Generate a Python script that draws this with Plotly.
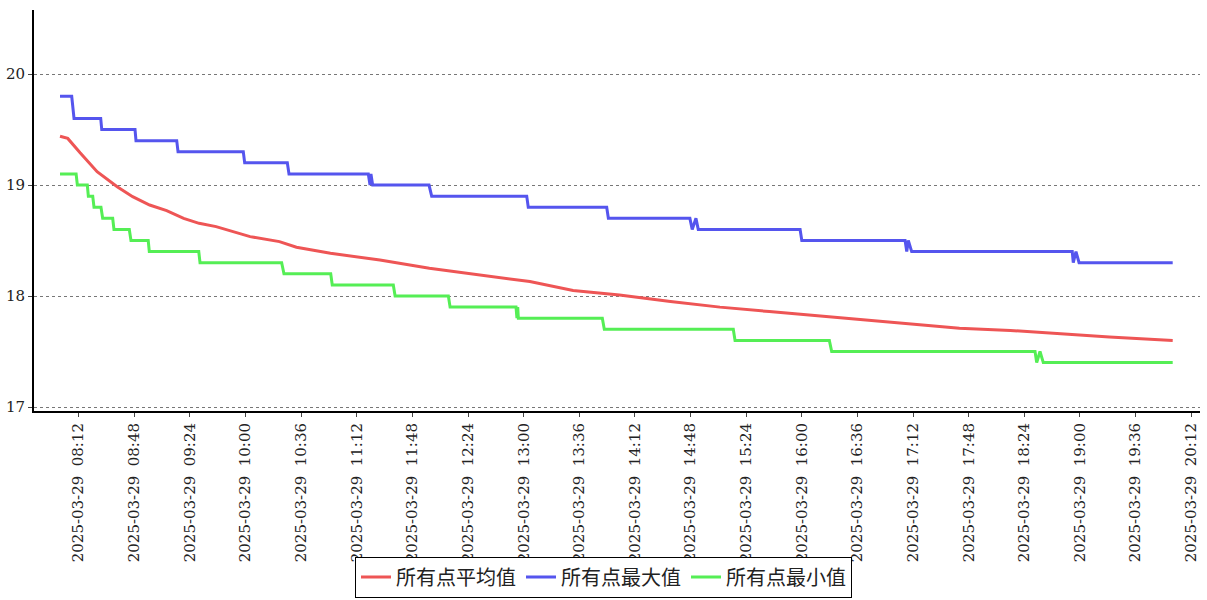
import plotly.graph_objects as go

DAY = "2025-03-29 "

# 所有点平均值 (average)
avg_time = ["08:00:00", "08:05:00", "08:13:00", "08:24:00", "08:37:00", "08:47:00", "08:58:00",
            "09:09:00", "09:20:00", "09:30:00", "09:41:00", "10:03:00", "10:22:00", "10:33:00",
            "10:55:00", "11:27:00", "11:59:00", "12:32:00", "13:04:00", "13:32:00", "14:02:00",
            "14:35:00", "15:07:00", "15:39:00", "16:12:00", "16:42:00", "17:10:00", "17:42:00",
            "18:15:00", "18:47:00", "19:19:00", "20:00:00"]
avg_vals = [19.44, 19.42, 19.29, 19.12, 18.985, 18.895, 18.82,
            18.77, 18.70, 18.655, 18.625, 18.535, 18.49, 18.44,
            18.385, 18.324, 18.25, 18.19, 18.13, 18.05, 18.01,
            17.95, 17.90, 17.86, 17.82, 17.78, 17.75, 17.71,
            17.69, 17.66, 17.63, 17.60]

# 所有点最大值 (maximum)
max_time = ["08:00:00", "08:07:34", "08:09:04", "08:26:20", "08:27:00", "08:48:32", "08:49:10",
            "09:15:31", "09:16:22", "09:58:36", "09:59:30", "10:27:05", "10:28:10",
            "11:19:30", "11:20:36", "11:21:12", "11:22:18", "11:58:48", "12:00:30",
            "13:02:00", "13:03:00", "13:53:45", "13:54:50", "14:47:35", "14:49:06",
            "14:51:30", "14:53:00", "15:58:54", "16:00:00", "17:06:50", "17:07:55",
            "17:08:55", "17:11:06", "18:55:00", "18:55:40", "18:57:25", "18:59:25", "20:00:00"]
max_vals = [19.8, 19.8, 19.6, 19.6, 19.5, 19.5, 19.4,
            19.4, 19.3, 19.3, 19.2, 19.2, 19.1,
            19.1, 19.0, 19.1, 19.0, 19.0, 18.9,
            18.9, 18.8, 18.8, 18.7, 18.7, 18.6,
            18.7, 18.6, 18.6, 18.5, 18.5, 18.4,
            18.5, 18.4, 18.4, 18.3, 18.4, 18.3, 18.3]

# 所有点最小值 (minimum)
min_time = ["08:00:00", "08:10:25", "08:11:13", "08:17:40", "08:18:20", "08:21:10", "08:22:00",
            "08:26:30", "08:27:36", "08:34:05", "08:34:55", "08:44:50", "08:45:55",
            "08:57:05", "08:57:47", "09:29:47", "09:30:36", "10:23:25", "10:24:55",
            "10:55:10", "10:56:10", "11:35:40", "11:36:50", "12:11:18", "12:12:25",
            "12:55:05", "12:55:40", "12:56:10", "12:56:35", "13:50:55", "13:52:12",
            "15:15:40", "15:16:48", "16:17:50", "16:19:20", "18:30:55", "18:32:00",
            "18:34:08", "18:36:16", "20:00:00"]
min_vals = [19.1, 19.1, 19.0, 19.0, 18.9, 18.9, 18.8,
            18.8, 18.7, 18.7, 18.6, 18.6, 18.5,
            18.5, 18.4, 18.4, 18.3, 18.3, 18.2,
            18.2, 18.1, 18.1, 18.0, 18.0, 17.9,
            17.9, 17.8, 17.9, 17.8, 17.8, 17.7,
            17.7, 17.6, 17.6, 17.5, 17.5, 17.4,
            17.5, 17.4, 17.4]

tick_times = ["08:12", "08:48", "09:24", "10:00", "10:36", "11:12", "11:48", "12:24", "13:00",
              "13:36", "14:12", "14:48", "15:24", "16:00", "16:36", "17:12", "17:48", "18:24",
              "19:00", "19:36", "20:12"]
y_ticks = [17, 18, 19, 20]

names = ["所有点平均值", "所有点最大值", "所有点最小值"]
colors = ["#ee5555", "#5555ee", "#55ee55"]

fig = go.Figure()
for t, v, n, c in [(avg_time, avg_vals, names[0], colors[0]),
                   (max_time, max_vals, names[1], colors[1]),
                   (min_time, min_vals, names[2], colors[2])]:
    fig.add_trace(go.Scatter(x=[DAY + s for s in t], y=v, mode="lines", name=n,
                             line=dict(color=c, width=3)))

fig.update_layout(
    width=1207, height=600,
    margin=dict(l=34, r=7, t=10, b=189, autoexpand=False),
    paper_bgcolor="white", plot_bgcolor="white",
    font=dict(family="DejaVu Serif", color="black"),
    showlegend=True,
    legend=dict(orientation="h", xref="container", yref="container",
                x=0.5, xanchor="center", y=0.004, yanchor="bottom",
                bordercolor="black", borderwidth=1, bgcolor="white",
                font=dict(family="Noto Sans CJK SC", size=20, color="#222222"),
                itemwidth=30, tracegroupgap=0),
)
fig.update_xaxes(
    type="date", automargin=False,
    range=[DAY + "07:43:10", DAY + "20:17:40"],
    tickvals=[DAY + s for s in tick_times],
    ticktext=[DAY + "\u00a0" + s for s in tick_times],
    tickangle=-90,
    tickfont=dict(family="DejaVu Serif", size=15, color="#222222"),
    showgrid=False, zeroline=False,
    showline=True, linecolor="black", linewidth=2,
    ticks="outside", ticklen=4, tickcolor="#444444",
)
fig.update_yaxes(
    automargin=False,
    range=[16.964, 20.577],
    tickvals=y_ticks,
    ticktext=[str(v) for v in y_ticks],
    tickfont=dict(family="DejaVu Serif", size=15, color="#222222"),
    showgrid=True, gridcolor="#777777", griddash="dot", gridwidth=1,
    zeroline=False,
    showline=True, linecolor="black", linewidth=2,
    ticks="outside", ticklen=4, tickcolor="#444444",
)

fig.write_html("out.html", config={"displayModeBar": False},
               post_script="document.body.style.margin='0';document.body.style.overflow='hidden';")
